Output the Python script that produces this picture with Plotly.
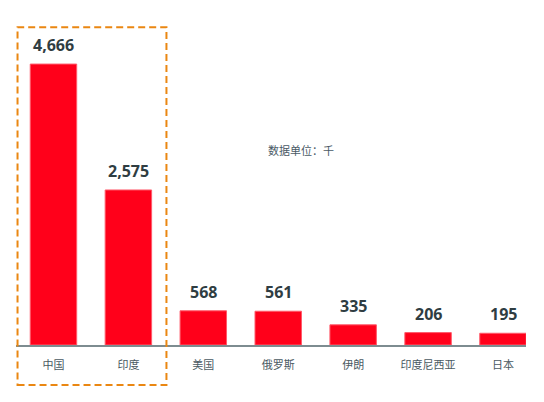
import plotly.graph_objects as go

countries = ['中国', '印度', '美国', '俄罗斯', '伊朗', '印度尼西亚', '日本']
values = [4666, 2575, 568, 561, 335, 206, 195]
unit_note = '数据单位：千'

fig = go.Figure()

fig.add_trace(go.Bar(
    x=countries,
    y=values,
    marker=dict(color='#FF001A', line=dict(color='#FF5A6A', width=1)),
    width=0.62,
    hoverinfo='x+y',
))

# value labels above each bar
for c, v in zip(countries, values):
    fig.add_annotation(
        x=c, y=v, text=f'<b>{v:,}</b>',
        showarrow=False, yanchor='middle', yshift=19,
        font=dict(family='Open Sans', size=16, color='#2F3D42'),
    )

fig.update_layout(
    width=536,
    height=394,
    margin=dict(l=7.5, r=18, t=12, b=57),
    paper_bgcolor='white',
    plot_bgcolor='white',
    showlegend=False,
    font=dict(family='Noto Sans CJK SC, Noto Sans', color='#4A5A62'),
    xaxis=dict(
        range=[-0.5, 6.307],
        showgrid=False,
        showline=True,
        linecolor='#7D8C90',
        linewidth=1.5,
        ticks='',
        ticklabelstandoff=9,
        tickfont=dict(family='Noto Sans CJK SC', size=11, color='#4A5A62'),
        fixedrange=True,
    ),
    yaxis=dict(
        range=[0, 5398],
        visible=False,
        fixedrange=True,
    ),
)

# dashed frame round the first two countries
fig.add_shape(
    type='rect', xref='paper', yref='paper',
    x0=0.003, x1=0.295, y0=-0.123, y1=0.978,
    line=dict(color='#EA8712', width=2, dash='7px,4px'),
)

fig.add_annotation(
    text=unit_note, xref='paper', yref='paper',
    x=0.558, y=0.6, showarrow=False,
    font=dict(family='Noto Sans CJK SC', size=11, color='#4A5A66'),
)

fig.write_html('out.html')
